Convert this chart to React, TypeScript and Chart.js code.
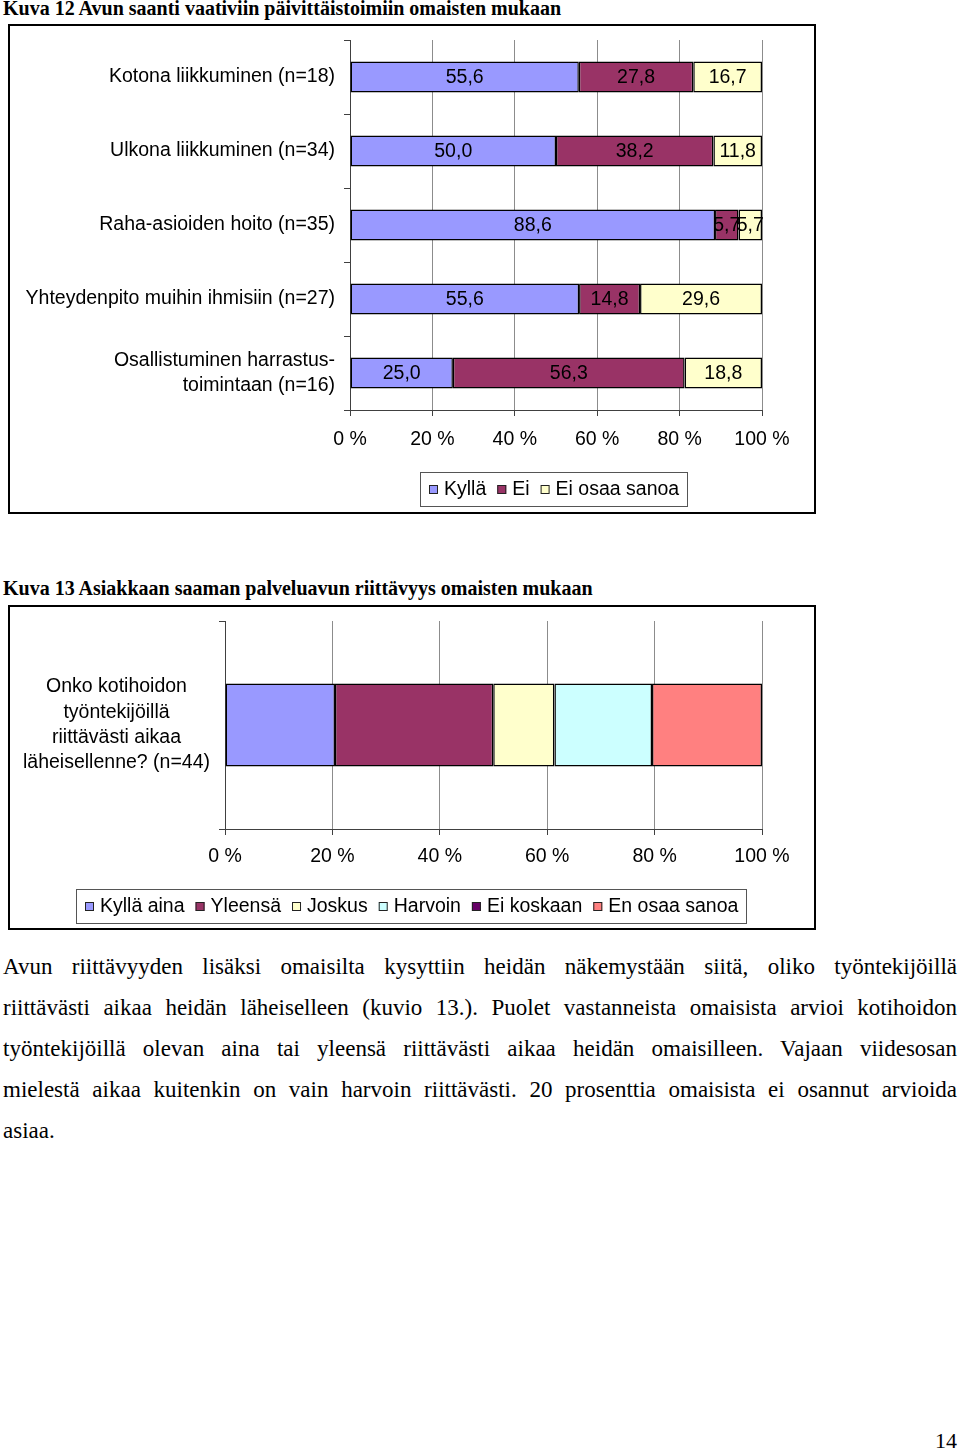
import React, { useEffect, useRef } from 'react';
import { Chart, registerables } from 'chart.js';

Chart.register(...registerables);

const SANS = '"Liberation Sans", Arial, sans-serif';
const SERIF = '"Liberation Serif", "Times New Roman", serif';

// ---------- Kuva 12 ----------
const categories1: (string | string[])[] = [
  'Kotona liikkuminen (n=18)',
  'Ulkona liikkuminen (n=34)',
  'Raha-asioiden hoito (n=35)',
  'Yhteydenpito muihin ihmisiin (n=27)',
  ['Osallistuminen harrastus-', 'toimintaan (n=16)'],
];
const series1Names = ['Kyllä', 'Ei', 'Ei osaa sanoa'];
const kylla1 = [55.6, 50.0, 88.6, 55.6, 25.0];
const ei1 = [27.8, 38.2, 5.7, 14.8, 56.3];
const eiOsaaSanoa1 = [16.7, 11.8, 5.7, 29.6, 18.8];
const colors1 = ['#9999FF', '#993366', '#FFFFCC'];

// ---------- Kuva 13 ----------
const categories2: (string | string[])[] = [
  ['Onko kotihoidon', 'työntekijöillä', 'riittävästi aikaa', 'läheisellenne? (n=44)'],
];
const series2Names = ['Kyllä aina', 'Yleensä', 'Joskus', 'Harvoin', 'Ei koskaan', 'En osaa sanoa'];
const kyllaAina2 = [20.5];
const yleensa2 = [29.5];
const joskus2 = [11.4];
const harvoin2 = [18.2];
const eiKoskaan2 = [0];
const enOsaaSanoa2 = [20.5];
const colors2 = ['#9999FF', '#993366', '#FFFFCC', '#CCFFFF', '#660066', '#FF8080'];

const axisTicks = [0, 20, 40, 60, 80, 100];

const title1 = 'Kuva 12 Avun saanti vaativiin päivittäistoimiin omaisten mukaan';
const title2 = 'Kuva 13 Asiakkaan saaman palveluavun riittävyys omaisten mukaan';
const paragraphLines = [
  'Avun riittävyyden lisäksi omaisilta kysyttiin heidän näkemystään siitä, oliko työntekijöillä',
  'riittävästi aikaa heidän läheiselleen (kuvio 13.). Puolet vastanneista omaisista arvioi kotihoidon',
  'työntekijöillä olevan aina tai yleensä riittävästi aikaa heidän omaisilleen. Vajaan viidesosan',
  'mielestä aikaa kuitenkin on vain harvoin riittävästi. 20 prosenttia omaisista ei osannut arvioida',
  'asiaa.',
];
const pageNumber = '14';

const fmt = (v: number) => v.toFixed(1).replace('.', ',');

function buildDatasets(series: number[][], names: string[], colors: string[], barPct: number) {
  const n = series[0].length;
  const totals = Array.from({ length: n }, (_, i) => series.reduce((s, arr) => s + arr[i], 0));
  return series.map((arr, k) => ({
    label: names[k],
    data: arr.map((v, i) => (totals[i] ? (v / totals[i]) * 100 : 0)),
    raw: arr,
    backgroundColor: colors[k],
    borderColor: '#000000',
    borderWidth: 1.5,
    borderSkipped: false,
    categoryPercentage: 1,
    barPercentage: barPct,
  }));
}

const valueLabelsPlugin = {
  id: 'valueLabels',
  afterDatasetsDraw(chart: any, _args: any, opts: any) {
    if (!opts || !opts.show) return;
    const ctx = chart.ctx;
    ctx.save();
    ctx.font = `19.5px ${SANS}`;
    ctx.fillStyle = '#000';
    ctx.textAlign = 'center';
    ctx.textBaseline = 'middle';
    chart.data.datasets.forEach((ds: any, di: number) => {
      const meta = chart.getDatasetMeta(di);
      meta.data.forEach((el: any, i: number) => {
        const raw = ds.raw[i];
        if (!raw) return;
        const { x, base, y } = el.getProps(['x', 'base', 'y'], true);
        ctx.fillText(fmt(raw), (x + base) / 2, y + 1);
      });
    });
    ctx.restore();
  },
};

const boxedLegendPlugin = {
  id: 'boxedLegend',
  afterDraw(chart: any, _args: any, opts: any) {
    if (!opts || opts.centerX === undefined) return;
    const ctx = chart.ctx;
    const sq = 9;
    const gapText = 6;
    const itemGap = 11;
    const padL = 9;
    const padR = 8;
    ctx.save();
    ctx.font = `19.5px ${SANS}`;
    const items = chart.data.datasets.map((d: any) => ({
      text: d.label,
      color: d.backgroundColor,
      w: ctx.measureText(d.label).width,
    }));
    let total = padL + padR;
    items.forEach((it: any, i: number) => {
      total += sq + gapText + it.w + (i < items.length - 1 ? itemGap : 0);
    });
    const left = Math.round(opts.centerX - total / 2);
    const top = opts.top;
    const h = opts.height;
    ctx.fillStyle = '#ffffff';
    ctx.fillRect(left, top, total, h);
    ctx.strokeStyle = '#555555';
    ctx.lineWidth = 1;
    ctx.strokeRect(left + 0.5, top + 0.5, Math.round(total), h);
    let x = left + padL;
    const cy = top + h / 2;
    ctx.textAlign = 'left';
    ctx.textBaseline = 'middle';
    items.forEach((it: any) => {
      ctx.fillStyle = it.color;
      ctx.fillRect(x, Math.round(cy - sq / 2), sq, sq);
      ctx.strokeStyle = '#222222';
      ctx.strokeRect(x + 0.5, Math.round(cy - sq / 2) + 0.5, sq - 1, sq - 1);
      ctx.fillStyle = '#000';
      ctx.fillText(it.text, x + sq + gapText, cy + 1);
      x += sq + gapText + it.w + itemGap;
    });
    ctx.restore();
  },
};

function makeConfig(p: {
  labels: any[];
  datasets: any[];
  yWidth: number;
  padding: any;
  tickPad: number;
  crossAlign: string;
  legend: any;
  showValues: boolean;
}) {
  return {
    type: 'bar',
    data: { labels: p.labels, datasets: p.datasets },
    options: {
      indexAxis: 'y',
      responsive: false,
      maintainAspectRatio: false,
      animation: false,
      events: [],
      layout: { padding: p.padding },
      scales: {
        x: {
          type: 'linear',
          stacked: true,
          min: 0,
          max: 100,
          afterFit: (s: any) => {
            s.height = 40;
            s.paddingLeft = 0;
            s.paddingRight = 0;
          },
          afterBuildTicks: (s: any) => {
            s.ticks = axisTicks.map((v) => ({ value: v }));
          },
          ticks: {
            callback: (v: any) => `${v} %`,
            color: '#000',
            font: { family: SANS, size: 19.5 },
            padding: p.tickPad,
            maxRotation: 0,
            autoSkip: false,
          },
          grid: {
            color: '#8c8c8c',
            lineWidth: 1,
            tickColor: '#404040',
            tickLength: 6,
            drawOnChartArea: true,
          },
          border: { color: '#404040', width: 1 },
        },
        y: {
          type: 'category',
          stacked: true,
          afterFit: (s: any) => {
            s.width = p.yWidth;
            s.paddingTop = 0;
            s.paddingBottom = 0;
          },
          ticks: {
            color: '#000',
            font: { family: SANS, size: 19.5, lineHeight: 1.3 },
            padding: 9,
            crossAlign: p.crossAlign,
            autoSkip: false,
          },
          grid: {
            drawOnChartArea: false,
            tickLength: 6,
            tickColor: '#404040',
            color: '#404040',
            offset: true,
          },
          border: { color: '#404040', width: 1 },
        },
      },
      plugins: {
        legend: { display: false },
        tooltip: { enabled: false },
        boxedLegend: p.legend,
        valueLabels: { show: p.showValues },
      },
    },
    plugins: [valueLabelsPlugin, boxedLegendPlugin],
  };
}

function BarCanvas({ config, width, height }: { config: any; width: number; height: number }) {
  const ref = useRef<HTMLCanvasElement>(null);
  useEffect(() => {
    const chart = new Chart(ref.current as HTMLCanvasElement, config);
    return () => chart.destroy();
  }, []);
  return (
    <canvas
      ref={ref}
      width={width}
      height={height}
      style={{ display: 'block', width, height, position: 'absolute', left: 0, top: 0 }}
    />
  );
}

const boxStyle = (top: number, height: number): React.CSSProperties => ({
  position: 'absolute',
  left: 8,
  top,
  width: 808,
  height,
  border: '2px solid #000',
  boxSizing: 'border-box',
  background: '#fff',
});

export default function App() {
  const config1 = makeConfig({
    labels: categories1,
    datasets: buildDatasets([kylla1, ei1, eiOsaaSanoa1], series1Names, colors1, 0.42),
    yWidth: 340,
    padding: { left: 0, top: 14, right: 52, bottom: 62 },
    tickPad: 12,
    crossAlign: 'near',
    legend: { centerX: 544, top: 446, height: 34 },
    showValues: true,
  });
  const config2 = makeConfig({
    labels: categories2,
    datasets: buildDatasets(
      [kyllaAina2, yleensa2, joskus2, harvoin2, eiKoskaan2, enOsaaSanoa2],
      series2Names,
      colors2,
      0.4
    ),
    yWidth: 215,
    padding: { left: 0, top: 14, right: 52, bottom: 59 },
    tickPad: 10,
    crossAlign: 'center',
    legend: { centerX: 401, top: 282, height: 34 },
    showValues: false,
  });

  const titleStyle = (top: number): React.CSSProperties => ({
    position: 'absolute',
    left: 3,
    top,
    fontFamily: SERIF,
    fontWeight: 'bold',
    fontSize: 20,
    lineHeight: '20px',
    whiteSpace: 'nowrap',
    color: '#000',
  });

  return (
    <div
      style={{
        position: 'absolute',
        left: 0,
        top: 0,
        width: 960,
        height: 1451,
        background: '#fff',
        overflow: 'hidden',
      }}
    >
      <div style={titleStyle(-2)}>{title1}</div>
      <div style={boxStyle(24, 490)}>
        <BarCanvas config={config1} width={804} height={486} />
      </div>

      <div style={titleStyle(578)}>{title2}</div>
      <div style={boxStyle(605, 325)}>
        <BarCanvas config={config2} width={804} height={321} />
      </div>

      <div
        style={{
          position: 'absolute',
          left: 3,
          top: 946,
          width: 954,
          fontFamily: SERIF,
          fontSize: 23,
          lineHeight: '41px',
          color: '#000',
        }}
      >
        {paragraphLines.map((line, i) => (
          <div
            key={i}
            style={{
              textAlign: i < paragraphLines.length - 1 ? 'justify' : 'left',
              textAlignLast: i < paragraphLines.length - 1 ? 'justify' : 'left',
              whiteSpace: 'nowrap',
            } as React.CSSProperties}
          >
            {line}
          </div>
        ))}
      </div>

      <div
        style={{
          position: 'absolute',
          right: 3,
          top: 1429,
          fontFamily: SERIF,
          fontSize: 22,
          lineHeight: '24px',
          color: '#000',
        }}
      >
        {pageNumber}
      </div>
    </div>
  );
}
